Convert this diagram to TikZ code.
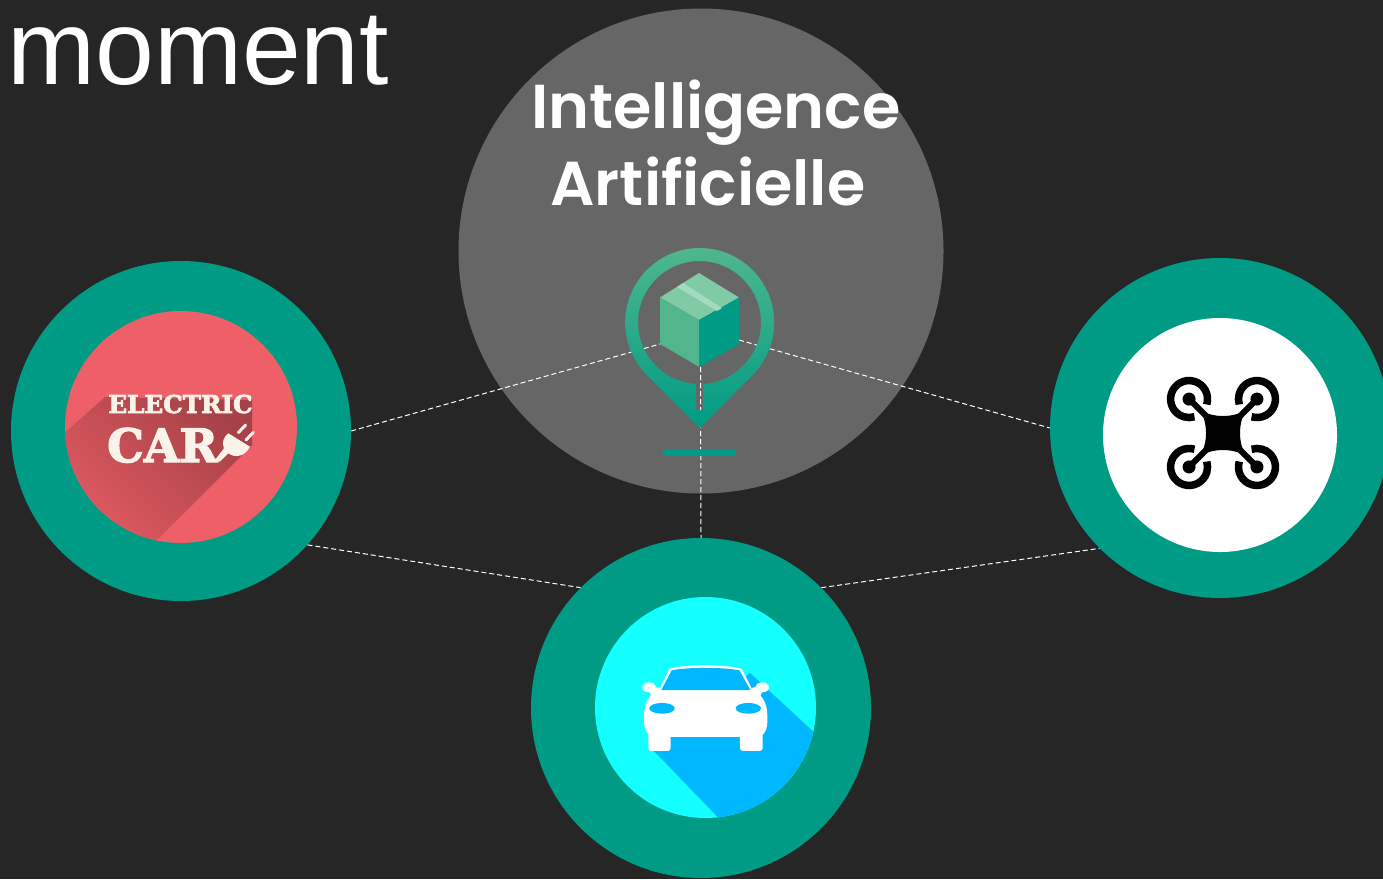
\documentclass[tikz,border=0pt]{standalone}
\usepackage{fontspec}
\setmainfont{Liberation Sans}
\newfontfamily\titlefont{Poppins SemiBold}
\newfontfamily\badgefont[FakeBold=3]{DejaVu Serif Bold}
\definecolor{slate}{HTML}{262626}
\definecolor{hubgrey}{HTML}{666666}
\definecolor{teal}{HTML}{009B84}
\definecolor{pintop}{HTML}{52B88E}
\definecolor{cubetop}{HTML}{80CBA6}
\definecolor{cubeleft}{HTML}{52B68C}
\definecolor{cubestrip}{HTML}{A4DBC0}
\definecolor{carred}{HTML}{EF5F67}
\definecolor{cream}{HTML}{FBF2EA}
\definecolor{aqua}{HTML}{14FFFF}
\definecolor{sky}{HTML}{00B8FF}
\tikzset{
  outerdisc/.style={circle, fill=teal, inner sep=0pt, minimum size=340pt},
  linkline/.style={white, line width=1pt, dash pattern=on 5pt off 3pt},
  hubtext/.style={white, font=\titlefont\fontsize{62}{62}\selectfont, anchor=base},
  roundcap/.style={line cap=round, line join=round},
}
\begin{document}
\begin{tikzpicture}[x=1pt, y=-1pt]
  \useasboundingbox[fill=slate] (0,0) rectangle (1383,879);
  \node [circle, fill=hubgrey, inner sep=0pt, minimum size=485pt] (hub) at (701,251) {};
  \node [outerdisc] (electric) at (181,431) {};
  \node [outerdisc] (drone) at (1220,428) {};
  \node [outerdisc] (auto) at (701,708) {};
  \node [circle, fill=carred, inner sep=0pt, minimum size=232pt] (electricface) at (181,427) {};
  \node [circle, fill=white, inner sep=0pt, minimum size=234pt] (droneface) at (1220,435) {};
  \node [circle, fill=aqua, inner sep=0pt, minimum size=221pt] (autoface) at (705.5,707.5) {};
  \coordinate (boxleft) at (660,344);
  \coordinate (boxright) at (739,340);
  \coordinate (boxbottom) at (700.5,367);
  \draw [linkline] (electric.east) -- (boxleft);
  \draw [linkline] (boxright) -- (drone.west);
  \draw [linkline] (boxbottom) -- (auto.north);
  \draw [linkline] (electric.-42) -- (auto.135);
  \draw [linkline] (auto.45) -- (drone.225);
  \node [anchor=base west, white, inner sep=0pt, font=\fontsize{105.7}{105.7}\selectfont] (moment) at (7,84) {moment};
  \node [hubtext, inner sep=0pt] (intelligence) at (716,128) {Intelligence};
  \node [hubtext, inner sep=0pt] (artificielle) at (708,205) {Artificielle};
  \path [shade, top color=pintop, middle color=pintop, bottom color=teal, even odd rule]
    (700,428) -- (647,375.2) arc [start angle=225, end angle=-45, radius=74.5pt] -- cycle
    (703,383.9) arc [start angle=-86.74, end angle=266.74, radius=61.5pt] -- (696,410) -- (703,410) -- cycle;
  \fill [teal] (663,449) rectangle (736,456);
  \fill [cubetop] (699,273) -- (739,297.5) -- (699,320) -- (660,297.5) -- cycle;
  \fill [cubeleft] (660,297.5) -- (699,320) -- (699.5,367) -- (660,344) -- cycle;
  \fill [teal] (739,297.5) -- (699,320) -- (699.5,367) -- (739,344) -- cycle;
  \fill [cubestrip] (677,287) -- (683,283) -- (722,308) -- (717,311) -- cycle;
  \begin{scope}
    \clip (181,427) circle [radius=116pt];
    \shade [top color=carred!70!black, bottom color=carred!97!black, shading angle=-45]
      (105,397) -- (40,455) -- (60,560) -- (140,557) -- (252,445) -- (252,400) -- cycle;
  \end{scope}
  \node [anchor=base, inner sep=0pt, cream, font=\badgefont\fontsize{24.6}{24.6}\selectfont] (electricword) at (180.5,413) {ELECTRIC};
  \node [anchor=base west, inner sep=0pt, cream, font=\badgefont\fontsize{46}{46}\selectfont] (carword) at (107,462) {CAR};
  \begin{scope}[shift={(50,300)}, x=.3333pt, y=-.3333pt]
    \fill [cream, roundcap] (535,400) -- (600,440) .. controls (585,470) and (555,475) .. (535,460) -- (510,485) -- (495,480) -- (522,445) .. controls (515,430) and (520,410) .. (535,400) -- cycle;
    \draw [cream, line width=3pt, roundcap] (565,398) -- (587,375);
    \draw [cream, line width=3pt, roundcap] (588,420) -- (610,397);
  \end{scope}
  \begin{scope}[shift={(1223,433)}]
    \foreach \turn in {45,135,225,315} {
      \begin{scope}[rotate=\turn]
        \draw [black, line width=6pt] (0,0) -- (48,0);
        \fill [black] (48,0) circle [radius=6.5pt];
        \draw [black, line width=7.5pt] (48,0) ++(-152:18.5pt) arc [start angle=-152, end angle=152, radius=18.5pt];
      \end{scope}
    }
    \fill [black] (-23,-23) .. controls (-10,-15) and (10,-15) .. (23,-23) .. controls (15,-10) and (15,10) .. (23,23) .. controls (10,15) and (-10,15) .. (-23,23) .. controls (-15,10) and (-15,-10) .. (-23,-23) -- cycle;
  \end{scope}
  \begin{scope}
    \clip (705.5,707.5) circle [radius=110.5pt];
    \fill [sky] (750,673) -- (830,747) -- (830,840) -- (735,835) -- (653,750) -- cycle;
  \end{scope}
  \begin{scope}[shift={(590,590)}, x=.3333pt, y=-.3333pt]
    \fill [white] (177,292) ellipse [x radius=6.7pt, y radius=5pt];
    \fill [white] (517,292) ellipse [x radius=6.7pt, y radius=5pt];
    \fill [white] (170,285) -- (215,295) -- (215,320) -- (185,320) -- cycle;
    \fill [white] (524,285) -- (480,295) -- (480,320) -- (510,320) -- cycle;
    \fill [white, rounded corners=3pt] (175,425) rectangle (242,483);
    \fill [white, rounded corners=3pt] (450,425) rectangle (518,483);
    \fill [white] (205,305) -- (238,236) .. controls (290,222) and (400,222) .. (455,236) -- (490,305) -- cycle;
    \fill [sky] (214,300) -- (245,241) .. controls (295,231) and (395,231) .. (448,241) -- (481,300) -- cycle;
    \fill [white] (195,303) -- (497,303) .. controls (520,320) and (532,345) .. (532,375) .. controls (534,425) and (525,440) .. (490,441) -- (205,441) .. controls (170,440) and (160,425) .. (162,375) .. controls (162,345) and (175,320) .. (195,303) -- cycle;
    \fill [sky] (216,355) ellipse [x radius=12.7pt, y radius=5.4pt];
    \fill [sky] (475,355) ellipse [x radius=12.7pt, y radius=5.4pt];
  \end{scope}
\end{tikzpicture}
\end{document}
